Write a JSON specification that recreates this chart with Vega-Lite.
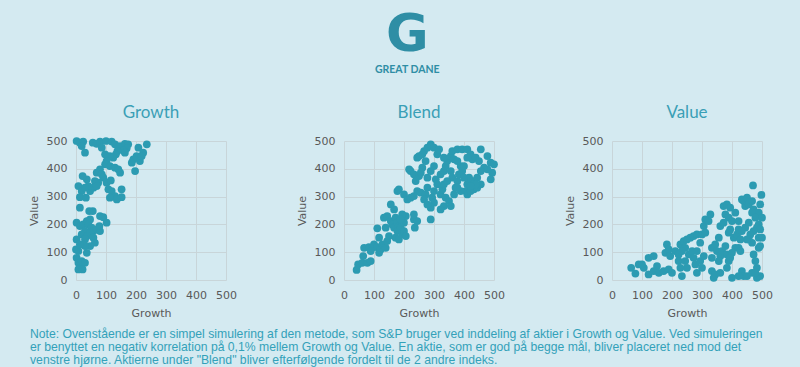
{
  "$schema": "https://vega.github.io/schema/vega-lite/v6.json",
  "background": "#d4eaf1",
  "padding": {"left": 28, "top": 8, "right": 36, "bottom": 2},
  "datasets": {
    "growth": [
      {"growth":2,"value":500},{"growth":13,"value":494},{"growth":24,"value":498},{"growth":19,"value":482},{"growth":30,"value":458},{"growth":56,"value":494},{"growth":69,"value":490},{"growth":80,"value":498},{"growth":100,"value":500},{"growth":119,"value":498},{"growth":130,"value":488},{"growth":147,"value":482},{"growth":163,"value":490},{"growth":174,"value":488},{"growth":169,"value":474},{"growth":158,"value":466},{"growth":138,"value":464},{"growth":133,"value":452},{"growth":124,"value":440},{"growth":113,"value":446},{"growth":97,"value":452},{"growth":86,"value":476},{"growth":102,"value":428},{"growth":97,"value":416},{"growth":113,"value":410},{"growth":130,"value":404},{"growth":141,"value":398},{"growth":147,"value":386},{"growth":208,"value":476},{"growth":236,"value":488},{"growth":224,"value":458},{"growth":202,"value":446},{"growth":191,"value":434},{"growth":197,"value":392},{"growth":213,"value":428},{"growth":219,"value":446},{"growth":186,"value":422},{"growth":163,"value":458},{"growth":80,"value":398},{"growth":69,"value":386},{"growth":86,"value":380},{"growth":91,"value":368},{"growth":74,"value":350},{"growth":63,"value":356},{"growth":36,"value":362},{"growth":22,"value":374},{"growth":8,"value":338},{"growth":19,"value":320},{"growth":13,"value":298},{"growth":33,"value":296},{"growth":47,"value":320},{"growth":58,"value":332},{"growth":69,"value":338},{"growth":41,"value":338},{"growth":30,"value":332},{"growth":102,"value":350},{"growth":116,"value":358},{"growth":108,"value":326},{"growth":119,"value":320},{"growth":130,"value":302},{"growth":152,"value":326},{"growth":152,"value":298},{"growth":136,"value":290},{"growth":113,"value":296},{"growth":13,"value":260},{"growth":2,"value":206},{"growth":13,"value":194},{"growth":24,"value":200},{"growth":36,"value":212},{"growth":47,"value":218},{"growth":41,"value":200},{"growth":52,"value":188},{"growth":30,"value":176},{"growth":19,"value":164},{"growth":2,"value":146},{"growth":36,"value":158},{"growth":47,"value":170},{"growth":58,"value":176},{"growth":69,"value":182},{"growth":80,"value":176},{"growth":78,"value":194},{"growth":80,"value":230},{"growth":91,"value":226},{"growth":56,"value":248},{"growth":44,"value":248},{"growth":102,"value":206},{"growth":58,"value":152},{"growth":63,"value":134},{"growth":47,"value":122},{"growth":30,"value":122},{"growth":36,"value":98},{"growth":8,"value":104},{"growth":2,"value":80},{"growth":8,"value":62},{"growth":19,"value":68},{"growth":30,"value":62},{"growth":13,"value":44},{"growth":8,"value":38},{"growth":22,"value":38},{"growth":0,"value":110},{"growth":30,"value":146},{"growth":13,"value":128}
    ],
    "blend": [
      {"growth":42,"value":36},{"growth":47,"value":56},{"growth":61,"value":62},{"growth":78,"value":62},{"growth":89,"value":68},{"growth":64,"value":86},{"growth":67,"value":116},{"growth":83,"value":118},{"growth":94,"value":116},{"growth":100,"value":128},{"growth":89,"value":104},{"growth":111,"value":118},{"growth":117,"value":98},{"growth":122,"value":110},{"growth":117,"value":152},{"growth":111,"value":186},{"growth":128,"value":128},{"growth":139,"value":116},{"growth":144,"value":140},{"growth":150,"value":158},{"growth":139,"value":188},{"growth":133,"value":224},{"growth":144,"value":230},{"growth":156,"value":212},{"growth":161,"value":200},{"growth":167,"value":188},{"growth":156,"value":272},{"growth":167,"value":254},{"growth":172,"value":224},{"growth":178,"value":206},{"growth":183,"value":194},{"growth":178,"value":176},{"growth":172,"value":152},{"growth":183,"value":146},{"growth":194,"value":164},{"growth":189,"value":188},{"growth":200,"value":176},{"growth":206,"value":158},{"growth":200,"value":206},{"growth":206,"value":230},{"growth":194,"value":236},{"growth":189,"value":218},{"growth":178,"value":320},{"growth":183,"value":326},{"growth":200,"value":308},{"growth":211,"value":290},{"growth":222,"value":296},{"growth":233,"value":302},{"growth":244,"value":320},{"growth":256,"value":314},{"growth":272,"value":308},{"growth":267,"value":290},{"growth":233,"value":218},{"growth":244,"value":212},{"growth":236,"value":188},{"growth":289,"value":218},{"growth":222,"value":392},{"growth":217,"value":398},{"growth":233,"value":380},{"growth":239,"value":356},{"growth":250,"value":374},{"growth":244,"value":440},{"growth":250,"value":446},{"growth":261,"value":452},{"growth":267,"value":464},{"growth":278,"value":476},{"growth":289,"value":488},{"growth":300,"value":476},{"growth":311,"value":452},{"growth":317,"value":470},{"growth":272,"value":428},{"growth":261,"value":404},{"growth":256,"value":386},{"growth":278,"value":368},{"growth":289,"value":392},{"growth":300,"value":410},{"growth":306,"value":362},{"growth":311,"value":344},{"growth":300,"value":320},{"growth":278,"value":332},{"growth":294,"value":296},{"growth":300,"value":278},{"growth":289,"value":260},{"growth":278,"value":272},{"growth":322,"value":308},{"growth":328,"value":326},{"growth":333,"value":344},{"growth":322,"value":380},{"growth":333,"value":392},{"growth":339,"value":410},{"growth":344,"value":428},{"growth":333,"value":440},{"growth":356,"value":446},{"growth":367,"value":434},{"growth":356,"value":392},{"growth":361,"value":368},{"growth":344,"value":356},{"growth":333,"value":266},{"growth":322,"value":254},{"growth":339,"value":296},{"growth":350,"value":284},{"growth":356,"value":266},{"growth":367,"value":308},{"growth":372,"value":332},{"growth":378,"value":356},{"growth":383,"value":380},{"growth":394,"value":392},{"growth":389,"value":410},{"growth":400,"value":410},{"growth":361,"value":464},{"growth":378,"value":470},{"growth":394,"value":470},{"growth":411,"value":470},{"growth":422,"value":452},{"growth":428,"value":434},{"growth":439,"value":440},{"growth":450,"value":428},{"growth":456,"value":470},{"growth":478,"value":446},{"growth":489,"value":422},{"growth":500,"value":416},{"growth":494,"value":386},{"growth":489,"value":362},{"growth":478,"value":398},{"growth":467,"value":404},{"growth":456,"value":392},{"growth":444,"value":368},{"growth":433,"value":356},{"growth":422,"value":356},{"growth":411,"value":344},{"growth":406,"value":320},{"growth":411,"value":308},{"growth":422,"value":320},{"growth":433,"value":326},{"growth":444,"value":332},{"growth":456,"value":344},{"growth":439,"value":344},{"growth":422,"value":338},{"growth":417,"value":368},{"growth":400,"value":368},{"growth":389,"value":320},{"growth":378,"value":332},{"growth":378,"value":428},{"growth":411,"value":440},{"growth":233,"value":236}
    ],
    "value": [
      {"growth":64,"value":44},{"growth":78,"value":23},{"growth":89,"value":56},{"growth":106,"value":44},{"growth":100,"value":56},{"growth":122,"value":80},{"growth":139,"value":86},{"growth":122,"value":20},{"growth":139,"value":32},{"growth":150,"value":50},{"growth":156,"value":26},{"growth":172,"value":32},{"growth":189,"value":38},{"growth":200,"value":26},{"growth":178,"value":98},{"growth":183,"value":128},{"growth":189,"value":110},{"growth":194,"value":86},{"growth":211,"value":104},{"growth":222,"value":92},{"growth":228,"value":128},{"growth":239,"value":140},{"growth":250,"value":146},{"growth":261,"value":152},{"growth":272,"value":158},{"growth":283,"value":164},{"growth":244,"value":116},{"growth":233,"value":104},{"growth":222,"value":68},{"growth":228,"value":44},{"growth":233,"value":14},{"growth":244,"value":68},{"growth":250,"value":44},{"growth":256,"value":92},{"growth":267,"value":104},{"growth":272,"value":80},{"growth":278,"value":56},{"growth":283,"value":26},{"growth":300,"value":44},{"growth":294,"value":68},{"growth":306,"value":86},{"growth":283,"value":104},{"growth":294,"value":134},{"growth":300,"value":164},{"growth":306,"value":194},{"growth":311,"value":218},{"growth":322,"value":212},{"growth":328,"value":236},{"growth":311,"value":170},{"growth":333,"value":32},{"growth":339,"value":8},{"growth":344,"value":20},{"growth":361,"value":26},{"growth":333,"value":116},{"growth":344,"value":128},{"growth":356,"value":152},{"growth":350,"value":104},{"growth":361,"value":86},{"growth":356,"value":68},{"growth":333,"value":80},{"growth":367,"value":104},{"growth":378,"value":122},{"growth":383,"value":92},{"growth":389,"value":68},{"growth":383,"value":44},{"growth":361,"value":194},{"growth":372,"value":206},{"growth":378,"value":236},{"growth":372,"value":266},{"growth":383,"value":272},{"growth":394,"value":260},{"growth":389,"value":224},{"growth":400,"value":212},{"growth":394,"value":182},{"growth":389,"value":170},{"growth":406,"value":152},{"growth":411,"value":116},{"growth":400,"value":98},{"growth":394,"value":80},{"growth":400,"value":8},{"growth":417,"value":164},{"growth":422,"value":182},{"growth":428,"value":146},{"growth":422,"value":116},{"growth":428,"value":104},{"growth":433,"value":32},{"growth":439,"value":14},{"growth":450,"value":14},{"growth":422,"value":14},{"growth":444,"value":188},{"growth":456,"value":206},{"growth":444,"value":266},{"growth":439,"value":284},{"growth":433,"value":290},{"growth":450,"value":296},{"growth":456,"value":272},{"growth":467,"value":284},{"growth":472,"value":254},{"growth":470,"value":340},{"growth":498,"value":306},{"growth":494,"value":272},{"growth":489,"value":242},{"growth":467,"value":242},{"growth":478,"value":224},{"growth":489,"value":200},{"growth":483,"value":188},{"growth":494,"value":182},{"growth":489,"value":152},{"growth":472,"value":176},{"growth":461,"value":164},{"growth":456,"value":146},{"growth":467,"value":134},{"growth":489,"value":116},{"growth":494,"value":122},{"growth":472,"value":92},{"growth":478,"value":68},{"growth":483,"value":44},{"growth":467,"value":26},{"growth":483,"value":8},{"growth":494,"value":14},{"growth":478,"value":26},{"growth":500,"value":152},{"growth":500,"value":224},{"growth":450,"value":146},{"growth":433,"value":176},{"growth":422,"value":212},{"growth":411,"value":242}
    ]
  },
  "title": {
    "text": "G",
    "subtitle": "GREAT DANE",
    "font": "DejaVu Sans",
    "fontSize": 52,
    "fontWeight": "bold",
    "color": "#2f8ea5",
    "subtitleFont": "Lato",
    "subtitleFontSize": 10.5,
    "subtitleFontWeight": "bold",
    "subtitleColor": "#2f8ea5",
    "subtitlePadding": 3,
    "anchor": "middle",
    "dx": 7,
    "offset": 28
  },
  "vconcat": [
    {
      "bounds": "flush",
      "spacing": 118,
      "title": {
        "text": [
          "Note: Ovenstående er en simpel simulering af den metode, som S&P bruger ved inddeling af aktier i Growth og Value. Ved simuleringen",
          "er benyttet en negativ korrelation på 0,1% mellem Growth og Value. En aktie, som er god på  begge mål, bliver placeret ned mod det",
          "venstre hjørne. Aktierne under \"Blend\" bliver efterfølgende fordelt til de 2 andre indeks."
        ],
        "orient": "bottom",
        "anchor": "start",
        "font": "Liberation Sans",
        "fontSize": 12.2,
        "fontWeight": "normal",
        "color": "#33a1b9",
        "lineHeight": 13,
        "offset": 10,
        "dx": 2
      },
      "hconcat": [
        {
          "data": {"name": "growth"},
          "title": "Growth",
          "width": 150,
          "height": 139,
          "mark": {"type": "circle", "size": 60, "opacity": 1, "color": "#2c9bb2"},
          "encoding": {
            "x": {"field": "growth", "type": "quantitative", "title": "Growth", "scale": {"domain": [0, 500]}},
            "y": {"field": "value", "type": "quantitative", "title": "Value", "scale": {"domain": [0, 500]}}
          }
        },
        {
          "data": {"name": "blend"},
          "title": "Blend",
          "width": 150,
          "height": 139,
          "mark": {"type": "circle", "size": 60, "opacity": 1, "color": "#2c9bb2"},
          "encoding": {
            "x": {"field": "growth", "type": "quantitative", "title": "Growth", "scale": {"domain": [0, 500]}},
            "y": {"field": "value", "type": "quantitative", "title": "Value", "scale": {"domain": [0, 500]}}
          }
        },
        {
          "data": {"name": "value"},
          "title": "Value",
          "width": 150,
          "height": 139,
          "mark": {"type": "circle", "size": 60, "opacity": 1, "color": "#2c9bb2"},
          "encoding": {
            "x": {"field": "growth", "type": "quantitative", "title": "Growth", "scale": {"domain": [0, 500]}},
            "y": {"field": "value", "type": "quantitative", "title": "Value", "scale": {"domain": [0, 500]}}
          }
        }
      ]
    }
  ],
  "config": {
    "view": {"stroke": null},
    "title": {"font": "Lato", "fontSize": 17, "fontWeight": "normal", "color": "#3a9fb6", "offset": 13},
    "axis": {
      "values": [0, 100, 200, 300, 400, 500],
      "labelOverlap": false,
      "labelFlush": false,
      "ticks": false,
      "domain": false,
      "grid": true,
      "gridColor": "#c8d5d9",
      "gridWidth": 1,
      "labelFont": "DejaVu Sans",
      "labelFontSize": 11,
      "labelColor": "#595959",
      "labelPadding": 9,
      "titleFont": "DejaVu Sans",
      "titleFontSize": 11,
      "titleFontWeight": "normal",
      "titleColor": "#595959",
      "titlePadding": 7
    }
  }
}
